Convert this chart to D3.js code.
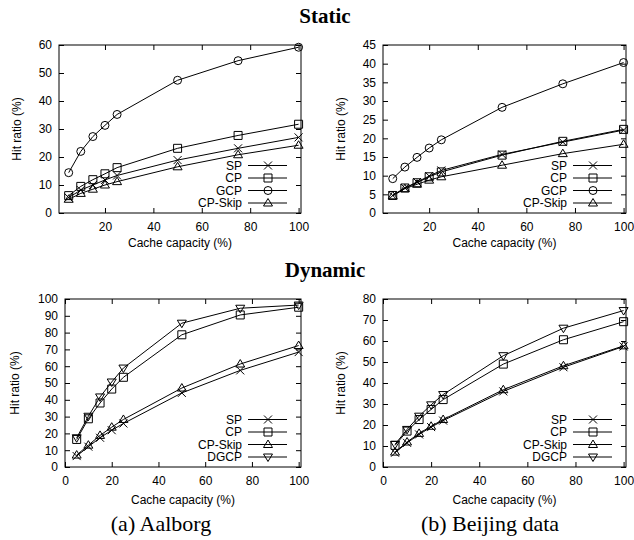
<!DOCTYPE html>
<html>
<head>
<meta charset="utf-8">
<script src="https://cdn.jsdelivr.net/npm/d3@7"></script>
<style>
  body { margin: 0; background: #fff; }
  svg { display: block; }
  .tick text { font-family: "Liberation Sans", Arial, sans-serif; font-size: 12px; fill: #000; }
</style>
</head>
<body>
<div id="chart"></div>
<script>
// x positions (cache capacity %)
const capacity = [5, 10, 15, 20, 25, 50, 75, 100];

// Static - Aalborg
const staticAalborgSP     = [5.5, 8.2, 10.0, 11.8, 13.4, 18.9, 23.1, 27.0];
const staticAalborgCP     = [6.2, 9.5, 11.9, 14.0, 16.2, 23.1, 27.7, 31.7];
const staticAalborgGCP    = [14.4, 22.0, 27.3, 31.3, 35.2, 47.4, 54.4, 59.2];
const staticAalborgCPSkip = [4.9, 7.0, 8.5, 10.0, 11.2, 16.5, 20.8, 24.2];

// Static - Beijing
const staticBeijingSP     = [4.7, 6.7, 8.3, 9.9, 11.4, 15.7, 19.0, 22.2];
const staticBeijingCP     = [4.7, 6.7, 8.1, 9.7, 11.0, 15.5, 19.2, 22.4];
const staticBeijingGCP    = [9.2, 12.3, 14.9, 17.4, 19.6, 28.3, 34.6, 40.3];
const staticBeijingCPSkip = [4.6, 6.5, 7.7, 8.8, 9.7, 12.8, 15.9, 18.4];

// Dynamic - Aalborg
const dynamicAalborgSP     = [6.5, 12.1, 17.4, 21.9, 25.9, 44.1, 57.5, 68.4];
const dynamicAalborgCP     = [16.4, 28.7, 38.1, 46.4, 53.4, 78.7, 90.5, 95.1];
const dynamicAalborgCPSkip = [7.1, 13.0, 18.8, 23.7, 28.3, 47.0, 61.3, 72.3];
const dynamicAalborgDGCP   = [17.4, 30.2, 41.7, 50.6, 58.9, 85.6, 94.5, 96.4];

// Dynamic - Beijing
const dynamicBeijingSP     = [6.8, 11.5, 15.5, 19.0, 22.1, 36.0, 47.5, 57.4];
const dynamicBeijingCP     = [10.3, 17.1, 22.6, 27.4, 32.1, 49.0, 60.6, 69.2];
const dynamicBeijingCPSkip = [7.1, 11.9, 16.0, 19.4, 22.6, 36.8, 48.2, 57.7];
const dynamicBeijingDGCP   = [10.8, 17.9, 24.2, 29.6, 34.5, 53.0, 66.1, 74.5];

const xTicksStatic  = [20, 40, 60, 80, 100];
const xTicksDynamic = [0, 20, 40, 60, 80, 100];

const W = 634, H = 540;
const svg = d3.select("#chart").append("svg")
    .attr("width", W).attr("height", H)
    .attr("viewBox", `0 0 ${W} ${H}`);
svg.append("rect").attr("width", W).attr("height", H).attr("fill", "#fff");

const serif = "'Liberation Serif', 'Times New Roman', serif";
const sans = "'Liberation Sans', Arial, sans-serif";

// marker shapes, half size r
function marker(g, type, cx, cy) {
    const r = 4;
    const s = g.append("path")
        .attr("fill", "none").attr("stroke", "#000").attr("stroke-width", 1);
    let d;
    if (type === "x") d = `M${cx-r},${cy-r}L${cx+r},${cy+r}M${cx-r},${cy+r}L${cx+r},${cy-r}`;
    else if (type === "square") d = `M${cx-r},${cy-r}h${2*r}v${2*r}h${-2*r}Z`;
    else if (type === "circle") d = `M${cx-r},${cy}a${r},${r} 0 1,0 ${2*r},0a${r},${r} 0 1,0 ${-2*r},0`;
    else if (type === "tri") d = `M${cx},${cy-r-0.5}L${cx+r+0.5},${cy+r-1}L${cx-r-0.5},${cy+r-1}Z`;
    else if (type === "tridown") d = `M${cx},${cy+r+0.5}L${cx+r+0.5},${cy-r+1}L${cx-r-0.5},${cy-r+1}Z`;
    s.attr("d", d);
}

function panel(cfg) {
    const { left, right, top, bottom } = cfg;
    const g = svg.append("g");
    const x = d3.scaleLinear().domain(cfg.xDomain).range([left, right]);
    const y = d3.scaleLinear().domain(cfg.yDomain).range([bottom, top]);
    const yTicks = d3.range(cfg.yDomain[0], cfg.yDomain[1] + 0.001, cfg.yStep);

    // axes with inward ticks
    const ax = g.append("g").attr("transform", `translate(0,${bottom})`)
        .call(d3.axisBottom(x).tickValues(cfg.xTicks).tickSize(-5).tickPadding(9));
    const axTop = g.append("g").attr("transform", `translate(0,${top})`)
        .call(d3.axisTop(x).tickValues(cfg.xTicks).tickSize(-5).tickFormat(""));
    const ay = g.append("g").attr("transform", `translate(${left},0)`)
        .call(d3.axisLeft(y).tickValues(yTicks).tickSize(-5).tickPadding(7));
    const ayR = g.append("g").attr("transform", `translate(${right},0)`)
        .call(d3.axisRight(y).tickValues(yTicks).tickSize(-5).tickFormat(""));
    [ax, axTop, ay, ayR].forEach(a => {
        a.select(".domain").remove();
        a.selectAll(".tick line").attr("stroke", "#000");
    });

    g.append("rect")
        .attr("x", left).attr("y", top)
        .attr("width", right - left).attr("height", bottom - top)
        .attr("fill", "none").attr("stroke", "#000").attr("stroke-width", 1);

    // axis titles
    g.append("text")
        .attr("x", (left + right) / 2).attr("y", cfg.xLabelY)
        .attr("text-anchor", "middle")
        .style("font-family", sans).style("font-size", "12px")
        .text("Cache capacity (%)");
    g.append("text")
        .attr("transform", `translate(${cfg.yLabelX},${(top + bottom) / 2}) rotate(-90)`)
        .attr("text-anchor", "middle").attr("dy", "0.35em")
        .style("font-family", sans).style("font-size", "12px")
        .text("Hit ratio (%)");

    const line = d3.line().x((d, i) => x(capacity[i])).y(d => y(d));
    cfg.series.forEach(s => {
        g.append("path").datum(s.values)
            .attr("d", line)
            .attr("fill", "none").attr("stroke", "#000").attr("stroke-width", 1);
        s.values.forEach((v, i) => marker(g, s.marker, x(capacity[i]), y(v)));
    });

    // legend
    const n = cfg.series.length;
    cfg.series.forEach((s, i) => {
        const ly = bottom - 10 - (n - 1 - i) * 12.5;
        g.append("text")
            .attr("x", right - 59).attr("y", ly).attr("dy", "0.36em")
            .attr("text-anchor", "end")
            .style("font-family", sans).style("font-size", "12px")
            .text(s.name);
        g.append("line")
            .attr("x1", right - 53).attr("x2", right - 14)
            .attr("y1", ly).attr("y2", ly)
            .attr("stroke", "#000").attr("stroke-width", 1);
        marker(g, s.marker, right - 33, ly);
    });
}

panel({
    left: 59, right: 301, top: 45, bottom: 213,
    xDomain: [1, 101], xTicks: xTicksStatic,
    yDomain: [0, 60], yStep: 10,
    xLabelY: 247, yLabelX: 17,
    series: [
        { name: "SP", values: staticAalborgSP, marker: "x" },
        { name: "CP", values: staticAalborgCP, marker: "square" },
        { name: "GCP", values: staticAalborgGCP, marker: "circle" },
        { name: "CP-Skip", values: staticAalborgCPSkip, marker: "tri" }
    ]
});

panel({
    left: 383, right: 626, top: 45, bottom: 213,
    xDomain: [1, 101], xTicks: xTicksStatic,
    yDomain: [0, 45], yStep: 5,
    xLabelY: 247, yLabelX: 341,
    series: [
        { name: "SP", values: staticBeijingSP, marker: "x" },
        { name: "CP", values: staticBeijingCP, marker: "square" },
        { name: "GCP", values: staticBeijingGCP, marker: "circle" },
        { name: "CP-Skip", values: staticBeijingCPSkip, marker: "tri" }
    ]
});

panel({
    left: 65, right: 301, top: 299, bottom: 467,
    xDomain: [0, 101], xTicks: xTicksDynamic,
    yDomain: [0, 100], yStep: 10,
    xLabelY: 504, yLabelX: 15,
    series: [
        { name: "SP", values: dynamicAalborgSP, marker: "x" },
        { name: "CP", values: dynamicAalborgCP, marker: "square" },
        { name: "CP-Skip", values: dynamicAalborgCPSkip, marker: "tri" },
        { name: "DGCP", values: dynamicAalborgDGCP, marker: "tridown" }
    ]
});

panel({
    left: 383, right: 626, top: 299, bottom: 467,
    xDomain: [0, 101], xTicks: xTicksDynamic,
    yDomain: [0, 80], yStep: 10,
    xLabelY: 504, yLabelX: 341,
    series: [
        { name: "SP", values: dynamicBeijingSP, marker: "x" },
        { name: "CP", values: dynamicBeijingCP, marker: "square" },
        { name: "CP-Skip", values: dynamicBeijingCPSkip, marker: "tri" },
        { name: "DGCP", values: dynamicBeijingDGCP, marker: "tridown" }
    ]
});

// section titles and captions
svg.append("text").attr("x", 325).attr("y", 23).attr("text-anchor", "middle")
    .style("font-family", serif).style("font-size", "21px").style("font-weight", "bold")
    .text("Static");
svg.append("text").attr("x", 325).attr("y", 277).attr("text-anchor", "middle")
    .style("font-family", serif).style("font-size", "21px").style("font-weight", "bold")
    .text("Dynamic");
svg.append("text").attr("x", 161).attr("y", 531).attr("text-anchor", "middle")
    .style("font-family", serif).style("font-size", "22px")
    .text("(a) Aalborg");
svg.append("text").attr("x", 490).attr("y", 531).attr("text-anchor", "middle")
    .style("font-family", serif).style("font-size", "22px")
    .text("(b) Beijing data");
</script>
</body>
</html>
